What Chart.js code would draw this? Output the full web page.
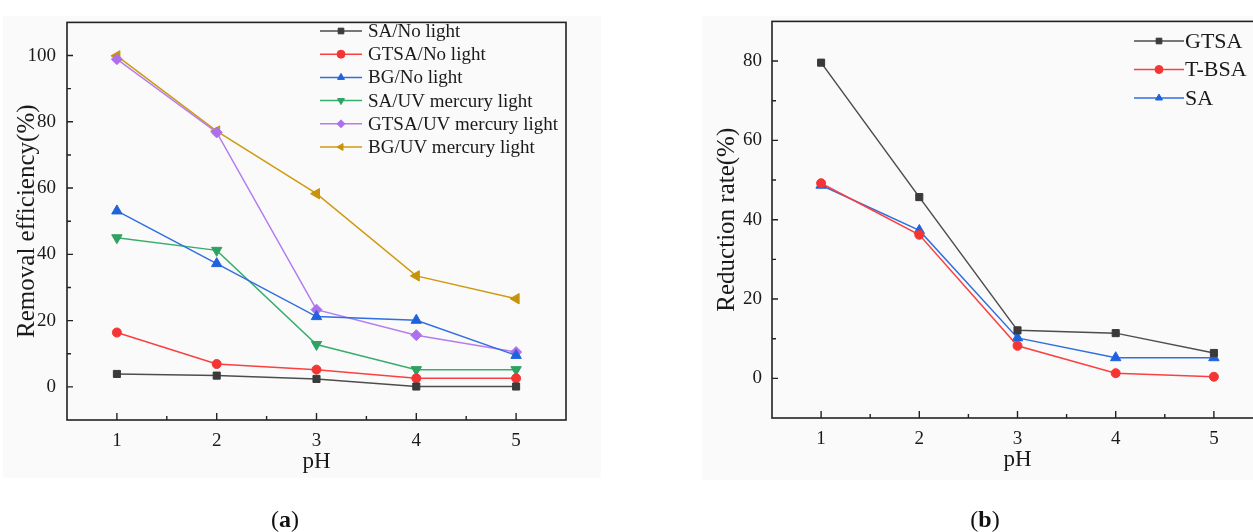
<!DOCTYPE html>
<html><head><meta charset="utf-8">
<script src="https://cdn.jsdelivr.net/npm/chart.js@4.4.1/dist/chart.umd.min.js"></script>
<style>
html,body{margin:0;padding:0;width:1253px;height:532px;overflow:hidden;background:#fff;}
.bg{position:absolute;background:#fafafa;}
canvas{position:absolute;top:0;}
.cap{position:absolute;font-family:'Liberation Serif',serif;font-size:24px;line-height:28px;color:#111;transform:translateX(-50%);white-space:nowrap;}
</style></head><body>
<div class="bg" style="left:3px;top:16px;width:598px;height:462px"></div>
<div class="bg" style="left:702px;top:16px;width:551px;height:464px"></div>
<canvas id="c1" width="620" height="532" style="left:0"></canvas>
<canvas id="c2" width="600" height="532" style="left:700px"></canvas>
<div class="cap" style="left:285px;top:505px">(<b>a</b>)</div>
<div class="cap" style="left:985px;top:505px">(<b>b</b>)</div>
<script>
// ---------- data ----------
const pH = [1, 2, 3, 4, 5];
const xTicks = [1, 2, 3, 4, 5];
const xMinorTicks = [1.5, 2.5, 3.5, 4.5];

// (a) Removal efficiency (%)
const labelsA = ['SA/No light', 'GTSA/No light', 'BG/No light', 'SA/UV mercury light', 'GTSA/UV mercury light', 'BG/UV mercury light'];
const saNoLight   = [3.9, 3.4, 2.4, 0.1, 0.1];
const gtsaNoLight = [16.4, 6.9, 5.2, 2.6, 2.6];
const bgNoLight   = [53.1, 37.2, 21.2, 20.1, 9.5];
const saUV        = [45.0, 41.2, 12.8, 5.2, 5.2];
const gtsaUV      = [98.9, 76.8, 23.3, 15.6, 10.5];
const bgUV        = [99.9, 77.2, 58.3, 33.5, 26.6];
const yTicksA = [0, 20, 40, 60, 80, 100];
const yMinorTicksA = [10, 30, 50, 70, 90];

// (b) Reduction rate (%)
const labelsB = ['GTSA', 'T-BSA', 'SA'];
const gtsaB = [79.6, 45.7, 12.1, 11.4, 6.4];
const tbsaB = [49.2, 36.2, 8.2, 1.3, 0.4];
const saB   = [48.7, 37.3, 10.2, 5.2, 5.2];
const yTicksB = [0, 20, 40, 60, 80];
const yMinorTicksB = [10, 30, 50, 70];

// ---------- styles ----------
const FONT = "'Liberation Serif', 'Times New Roman', serif";
const styleA = [
  {color: '#4d4d4d', point: '#3a3a3a', pointStyle: 'rect', rot: 0, r: 5},
  {color: '#fa4040', point: '#f53434', pointStyle: 'circle', rot: 0, r: 4.5},
  {color: '#2f6fe0', point: '#1f62dc', pointStyle: 'triangle', rot: 0, r: 6},
  {color: '#38ad6c', point: '#2ea262', pointStyle: 'triangle', rot: 180, r: 6},
  {color: '#b57cf0', point: '#ad70ec', pointStyle: 'rectRot', rot: 0, r: 5.5},
  {color: '#cf9a10', point: '#c8920a', pointStyle: 'triangle', rot: -90, r: 6}
];
const styleB = [
  {color: '#4d4d4d', point: '#3a3a3a', pointStyle: 'rect', rot: 0, r: 5},
  {color: '#fa4040', point: '#f53434', pointStyle: 'circle', rot: 0, r: 4.5},
  {color: '#2f6fe0', point: '#1f62dc', pointStyle: 'triangle', rot: 0, r: 6}
];

function makeDatasets(labels, series, styles) {
  return series.map((vals, i) => ({
    label: labels[i],
    data: pH.map((x, j) => ({x: x, y: vals[j]})),
    borderColor: styles[i].color,
    backgroundColor: styles[i].point,
    pointBackgroundColor: styles[i].point,
    pointBorderColor: styles[i].point,
    pointBorderWidth: 1,
    pointStyle: styles[i].pointStyle,
    pointRotation: styles[i].rot,
    pointRadius: styles[i].r,
    pointHoverRadius: styles[i].r,
    borderWidth: 1.5,
    tension: 0,
    fill: false
  }));
}

// frame + inward ticks
const framePlugin = {
  id: 'frame',
  afterDatasetsDraw(chart, args, o) {
    const ctx = chart.ctx, a = chart.chartArea;
    const xs = chart.scales.x, ys = chart.scales.y;
    ctx.save();
    ctx.strokeStyle = '#222';
    ctx.lineWidth = 1.6;
    ctx.strokeRect(a.left, a.top, a.right - a.left, a.bottom - a.top);
    ctx.lineWidth = 1.4;
    ctx.beginPath();
    o.xMajor.forEach(v => { const p = xs.getPixelForValue(v); ctx.moveTo(p, a.bottom); ctx.lineTo(p, a.bottom - 7); });
    o.xMinor.forEach(v => { const p = xs.getPixelForValue(v); ctx.moveTo(p, a.bottom); ctx.lineTo(p, a.bottom - 4); });
    o.yMajor.forEach(v => { const p = ys.getPixelForValue(v); ctx.moveTo(a.left, p); ctx.lineTo(a.left + 6, p); });
    o.yMinor.forEach(v => { const p = ys.getPixelForValue(v); ctx.moveTo(a.left, p); ctx.lineTo(a.left + 4, p); });
    ctx.stroke();
    ctx.restore();
  }
};

// legend with line + marker + line
const lineLegendPlugin = {
  id: 'lineLegend',
  afterDraw(chart, args, o) {
    const ctx = chart.ctx;
    ctx.save();
    ctx.font = o.fontSize + 'px ' + FONT;
    ctx.textBaseline = 'middle';
    ctx.textAlign = 'left';
    chart.data.datasets.forEach((ds, i) => {
      const y = o.y0 + i * o.dy;
      ctx.strokeStyle = ds.borderColor;
      ctx.lineWidth = 1.5;
      ctx.beginPath();
      ctx.moveTo(o.x0, y); ctx.lineTo(o.x1, y);
      ctx.stroke();
      ctx.fillStyle = ds.pointBackgroundColor;
      ctx.strokeStyle = ds.pointBorderColor;
      ctx.lineWidth = 1;
      Chart.helpers.drawPoint(ctx, {pointStyle: ds.pointStyle, rotation: ds.pointRotation, radius: o.r, borderWidth: 1}, (o.x0 + o.x1) / 2, y);
      ctx.fillStyle = '#1a1a1a';
      ctx.fillText(ds.label, o.tx, y + 1);
    });
    ctx.restore();
  }
};

function makeChart(id, cfg) {
  return new Chart(document.getElementById(id), {
    type: 'line',
    data: {datasets: cfg.datasets},
    plugins: [framePlugin, lineLegendPlugin],
    options: {
      responsive: false,
      devicePixelRatio: 1,
      animation: false,
      events: [],
      layout: {padding: cfg.padding},
      plugins: {
        legend: {display: false},
        tooltip: {enabled: false},
        frame: {xMajor: xTicks, xMinor: xMinorTicks, yMajor: cfg.yTicks, yMinor: cfg.yMinor},
        lineLegend: cfg.legend
      },
      scales: {
        x: {
          type: 'linear', min: 0.5, max: 5.5,
          afterBuildTicks: s => { s.ticks = xTicks.map(v => ({value: v})); },
          afterFit: s => { s.height = 70; },
          grid: {display: false, drawTicks: false},
          border: {display: false},
          ticks: {color: '#1a1a1a', font: {family: FONT, size: 19}, padding: 10, maxRotation: 0, callback: v => String(v)},
          title: {display: true, text: 'pH', color: '#1a1a1a', font: {family: FONT, size: 23}, padding: {top: 0, bottom: 14}}
        },
        y: {
          type: 'linear', min: cfg.yMin, max: cfg.yMax,
          afterBuildTicks: s => { s.ticks = cfg.yTicks.map(v => ({value: v})); },
          afterFit: s => { s.width = cfg.yWidth; },
          grid: {display: false, drawTicks: false},
          border: {display: false},
          ticks: {color: '#1a1a1a', font: {family: FONT, size: 19}, padding: cfg.yPad, callback: v => String(v)},
          title: {display: true, text: cfg.yTitle, color: '#1a1a1a', font: {family: FONT, size: 25}, padding: {top: 12, bottom: 0}}
        }
      }
    }
  });
}

makeChart('c1', {
  datasets: makeDatasets(labelsA, [saNoLight, gtsaNoLight, bgNoLight, saUV, gtsaUV, bgUV], styleA),
  padding: {left: 0, top: 18, right: 54, bottom: 42},
  yWidth: 67, yPad: 11,
  yMin: -10, yMax: 110,
  yTicks: yTicksA, yMinor: yMinorTicksA,
  yTitle: 'Removal efficiency(%)',
  legend: {x0: 320, x1: 362, tx: 368, y0: 31, dy: 23.2, fontSize: 19, r: 4}
});

makeChart('c2', {
  datasets: makeDatasets(labelsB, [gtsaB, tbsaB, saB], styleB),
  padding: {left: 0, top: 16, right: 37, bottom: 44},
  yWidth: 72, yPad: 10,
  yMin: -10, yMax: 90,
  yTicks: yTicksB, yMinor: yMinorTicksB,
  yTitle: 'Reduction rate(%)',
  legend: {x0: 434, x1: 484, tx: 485, y0: 41, dy: 28.5, fontSize: 22, r: 4}
});
</script>
</body></html>
